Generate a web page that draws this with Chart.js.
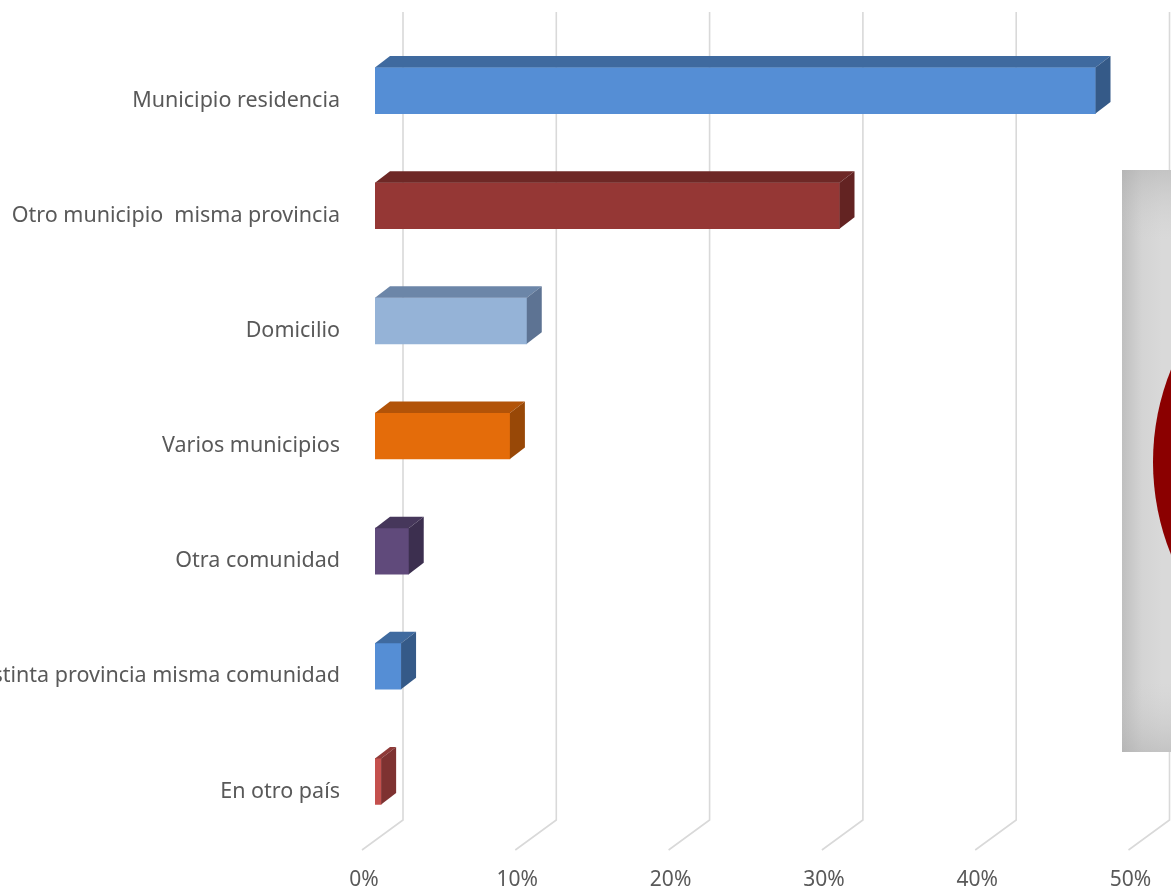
<!DOCTYPE html>
<html>
<head>
<meta charset="utf-8">
<script src="https://cdn.jsdelivr.net/npm/chart.js@4/dist/chart.umd.min.js"></script>
<style>
  body { margin: 0; background: #fff; }
  canvas { display: block; }
</style>
</head>
<body>
<canvas id="lugarChart" width="1171" height="893"></canvas>
<script>
const categories = [
    "Municipio residencia",
    "Otro municipio  misma provincia",
    "Domicilio",
    "Varios municipios",
    "Otra comunidad",
    "Distinta provincia misma comunidad",
    "En otro país",
];
const values = [47.0, 30.3, 9.9, 8.8, 2.2, 1.7, 0.4];
const tickValues = [0, 10, 20, 30, 40, 50];

const frontColors = ["#558ed5", "#953735", "#95b3d7", "#e46c0a", "#604a7b", "#558ed5", "#c4504d"];
const topColors = ["#3f6a9f", "#6e2826", "#6c86a8", "#b25308", "#46375b", "#3f6a9f", "#8e3a38"];
const sideColors = ["#355a88", "#632322", "#5d7393", "#984807", "#3c2f4f", "#355a88", "#7e3231"];

// profundidad de las barras y del suelo
const barDX = 15, barDY = 11.5;
const wallDX = 28, floorDX = 41, floorDY = 30;

const depthPlugin = {
    id: "depth3d",
    beforeDatasetsDraw(chart) {
        const ctx = chart.ctx;
        const xs = chart.scales.x;
        const area = chart.chartArea;
        const backBottom = area.bottom - 19;
        ctx.save();
        ctx.strokeStyle = "#d9d9d9";
        ctx.lineWidth = 1.6;
        tickValues.forEach((v) => {
            const xb = xs.getPixelForValue(v) + wallDX;
            ctx.beginPath();
            ctx.moveTo(xb, area.top - 21);
            ctx.lineTo(xb, backBottom);
            ctx.lineTo(xb - floorDX, backBottom + floorDY);
            ctx.stroke();
        });
        ctx.restore();
    },
    afterDatasetsDraw(chart) {
        const ctx = chart.ctx;
        const meta = chart.getDatasetMeta(0);
        ctx.save();
        meta.data.forEach((bar, i) => {
            const x0 = bar.base, x1 = bar.x;
            const top = bar.y - bar.height / 2;
            const bottom = bar.y + bar.height / 2;
            // cara superior
            ctx.fillStyle = topColors[i];
            ctx.beginPath();
            ctx.moveTo(x0, top);
            ctx.lineTo(x0 + barDX, top - barDY);
            ctx.lineTo(x1 + barDX, top - barDY);
            ctx.lineTo(x1, top);
            ctx.closePath();
            ctx.fill();
            // cara lateral
            ctx.fillStyle = sideColors[i];
            ctx.beginPath();
            ctx.moveTo(x1, top);
            ctx.lineTo(x1 + barDX, top - barDY);
            ctx.lineTo(x1 + barDX, bottom - barDY);
            ctx.lineTo(x1, bottom);
            ctx.closePath();
            ctx.fill();
        });
        ctx.restore();
    },
    afterDraw(chart) {
        // recuadro gris con círculo rojo a la derecha
        const ctx = chart.ctx;
        const px = 1122, py = 170, pw = 60, ph = 582;
        ctx.save();
        const g = ctx.createLinearGradient(px, 0, px + 40, 0);
        g.addColorStop(0, "#bfbfbf");
        g.addColorStop(0.5, "#d4d4d4");
        g.addColorStop(1, "#d9d9d9");
        ctx.fillStyle = g;
        ctx.fillRect(px, py, pw, ph);
        const gv = ctx.createLinearGradient(0, py, 0, py + ph);
        gv.addColorStop(0, "rgba(170,170,170,0.45)");
        gv.addColorStop(0.12, "rgba(200,200,200,0)");
        gv.addColorStop(0.88, "rgba(200,200,200,0)");
        gv.addColorStop(1, "rgba(170,170,170,0.45)");
        ctx.fillStyle = gv;
        ctx.fillRect(px, py, pw, ph);
        ctx.beginPath();
        ctx.rect(px, py, pw, ph);
        ctx.clip();
        ctx.fillStyle = "#8b0000";
        ctx.beginPath();
        ctx.arc(1400, 462, 247, 0, Math.PI * 2);
        ctx.fill();
        ctx.restore();
    },
};

new Chart(document.getElementById("lugarChart"), {
    type: "bar",
    data: {
        labels: categories,
        datasets: [
            {
                data: values,
                backgroundColor: frontColors,
                borderWidth: 0,
                barThickness: 46,
            },
        ],
    },
    options: {
        indexAxis: "y",
        responsive: false,
        animation: false,
        layout: { padding: { top: 33, right: 29.5, left: 0, bottom: 0 } },
        scales: {
            x: {
                min: 0,
                max: 50,
                afterFit(scale) {
                    scale.height = 54;
                    scale.paddingLeft = 0;
                    scale.paddingRight = 0;
                },
                grid: { display: false, drawTicks: false },
                border: { display: false },
                ticks: {
                    stepSize: 10,
                    padding: 28,
                    labelOffset: -11,
                    color: "#595959",
                    font: { family: "Noto Sans", size: 21 },
                    callback: (v) => v + "%",
                },
            },
            y: {
                afterFit(scale) {
                    scale.width = 375;
                    scale.paddingTop = 0;
                    scale.paddingBottom = 0;
                },
                grid: { display: false, drawTicks: false },
                border: { display: false },
                ticks: {
                    padding: 35,
                    labelOffset: 10,
                    color: "#595959",
                    font: { family: "Noto Sans", size: 21.5 },
                },
            },
        },
        plugins: {
            legend: { display: false },
            tooltip: { enabled: false },
        },
    },
    plugins: [depthPlugin],
});
</script>
</body>
</html>
